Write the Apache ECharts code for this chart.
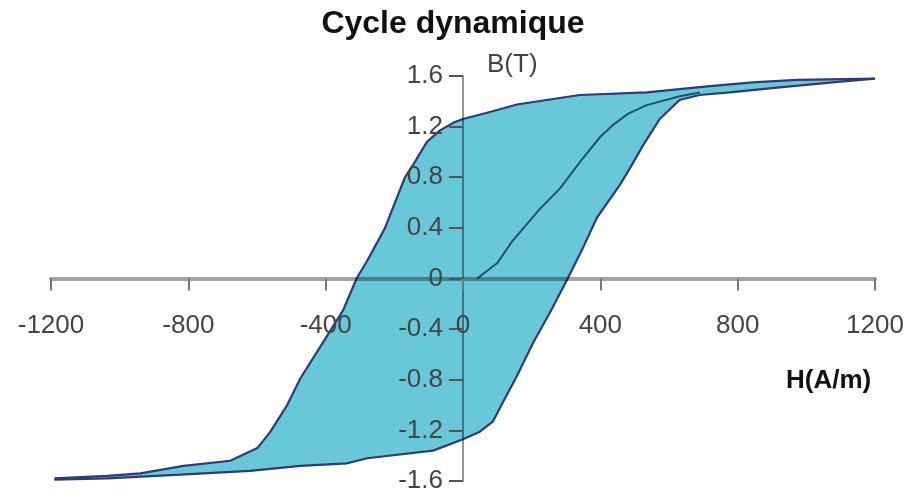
<!DOCTYPE html>
<html>
<head>
<meta charset="utf-8">
<script src="https://cdn.jsdelivr.net/npm/echarts@6/dist/echarts.min.js"></script>
<style>
  html, body { margin: 0; padding: 0; background: #fff; }
  #chart { width: 906px; height: 499px; }
</style>
</head>
<body>
<div id="chart"></div>
<script>
// descending branch, from +Hmax to -Hmax
const upperH = [1200, 972, 844, 719, 535, 340, 291, 157, 70, 0, -29, -67, -105, -145, -169, -227, -279, -310, -349, -416, -474, -512, -561, -599, -678, -814, -940, -1036, -1190];
const upperB = [1.58, 1.57, 1.55, 1.52, 1.47, 1.45, 1.43, 1.375, 1.31, 1.26, 1.23, 1.17, 1.08, 0.90, 0.80, 0.40, 0.14, 0, -0.25, -0.54, -0.79, -1.0, -1.21, -1.34, -1.44, -1.48, -1.54, -1.56, -1.58];
// ascending branch, from -Hmax to +Hmax
const lowerH = [-1190, -1036, -823, -620, -474, -337, -279, -87, 0, 49, 87, 116, 157, 204, 253, 305, 349, 390, 457, 486, 524, 573, 631, 689, 777, 922, 1076, 1200];
const lowerB = [-1.59, -1.58, -1.55, -1.52, -1.48, -1.46, -1.42, -1.36, -1.27, -1.21, -1.13, -0.98, -0.77, -0.51, -0.27, 0, 0.24, 0.48, 0.74, 0.87, 1.05, 1.26, 1.41, 1.45, 1.47, 1.51, 1.55, 1.58];
// first magnetisation curve
const initH = [41, 99, 145, 224, 282, 349, 400, 440, 480, 535, 631, 690];
const initB = [0, 0.12, 0.30, 0.55, 0.71, 0.95, 1.12, 1.22, 1.30, 1.37, 1.44, 1.47];

const pairs = (xs, ys) => xs.map((x, i) => [x, ys[i]]);
const upper = pairs(upperH, upperB);
const lower = pairs(lowerH, lowerB);
const loop = upper.concat(lower);

const labelFont = "'Liberation Sans', Arial, sans-serif";

// grid box; the axes are moved onto the origin with offsets
const gridLeft = 51, gridRight = 31, gridTop = 76, gridBottom = 18;
const W = 906, H = 499;
const plotW = W - gridLeft - gridRight;
const plotH = H - gridTop - gridBottom;

const chart = echarts.init(document.getElementById('chart'));

const option = {
  animation: false,
  title: {
    text: 'Cycle dynamique',
    left: 'center',
    top: 3,
    textStyle: { fontFamily: labelFont, fontSize: 32, fontWeight: 'bold', color: '#111' }
  },
  grid: { left: gridLeft, right: gridRight, top: gridTop, bottom: gridBottom, outerBoundsMode: 'none' },
  xAxis: {
    type: 'value',
    min: -1200, max: 1200, interval: 400,
    position: 'bottom',
    offset: -plotH / 2,
    z: 5,
    axisLine: { onZero: false, lineStyle: { color: 'rgba(0,0,0,0.36)', width: 4 } },
    axisTick: { show: true, length: 12, lineStyle: { color: '#777', width: 2 } },
    axisLabel: {
      margin: 34,
      fontFamily: labelFont, fontSize: 26, color: '#444',
      formatter: v => String(v)
    },
    splitLine: { show: false }
  },
  yAxis: {
    type: 'value',
    min: -1.6, max: 1.6, interval: 0.4,
    position: 'left',
    offset: -plotW / 2,
    z: 5,
    axisLine: { onZero: false, lineStyle: { color: 'rgba(0,0,0,0.55)', width: 1.5 } },
    axisTick: { show: true, length: 14, lineStyle: { color: '#555', width: 2 } },
    axisLabel: {
      margin: 20,
      fontFamily: labelFont, fontSize: 26, color: '#444',
      formatter: v => String(Math.round(v * 10) / 10)
    },
    splitLine: { show: false }
  },
  graphic: [
    {
      type: 'text', left: 487, top: 52,
      style: { text: 'B(T)', fontFamily: labelFont, fontSize: 26, fill: '#444' }
    },
    {
      type: 'text', left: 786, top: 368,
      style: { text: 'H(A/m)', fontFamily: labelFont, fontSize: 26, fontWeight: 'bold', fill: '#111' }
    }
  ],
  series: [
    {
      type: 'custom',
      z: 1,
      data: loop,
      renderItem: (params, api) => {
        if (params.dataIndex !== 0) return null;
        return {
          type: 'polygon',
          shape: { points: loop.map(p => api.coord(p)) },
          style: { fill: '#68C8D8', stroke: 'none' }
        };
      }
    },
    {
      type: 'line', z: 3, data: upper, showSymbol: false,
      lineStyle: { color: '#2C3C78', width: 2.2 }
    },
    {
      type: 'line', z: 3, data: lower, showSymbol: false,
      lineStyle: { color: '#2C3C78', width: 2.2 }
    },
    {
      type: 'line', z: 3, data: pairs(initH, initB), showSymbol: false,
      lineStyle: { color: '#1D4F73', width: 2 }
    }
  ]
};

chart.setOption(option);
</script>
</body>
</html>
